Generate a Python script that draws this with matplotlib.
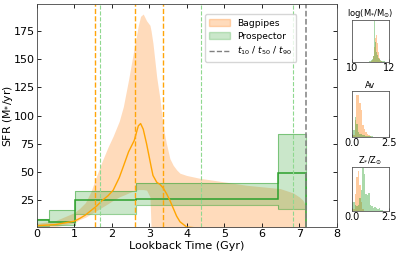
import numpy as np
import matplotlib
matplotlib.use("Agg")
import matplotlib.pyplot as plt
from matplotlib.patches import Patch
from matplotlib.lines import Line2D

# Bagpipes SFH (lookback time in Gyr, SFR in Msun/yr)
bp_t = [0.0, 0.5, 1.0, 1.15, 1.3, 1.45, 1.6, 1.75, 1.9, 2.04, 2.2, 2.31, 2.45,
        2.6, 2.71, 2.77, 2.84, 2.93, 3.02, 3.05, 3.1, 3.2, 3.29, 3.37, 3.46,
        3.55, 3.64, 3.73, 3.82, 4.0, 4.35, 4.7, 5.6, 6.49, 6.84, 7.0, 7.1, 7.18]
bp_med = [2.5, 3.5, 6.5, 9, 12, 16, 20, 25, 29, 34, 45, 55, 68, 78, 91, 93, 88, 75,
          60, 55, 47, 41, 39, 36, 31, 25, 18, 11, 6, 1.3, 0.3, 0.1, 0, 0, 0, 0, 0, 0]
bp_lo = [0.5, 1.5, 5, 8, 10, 13, 16, 19, 22, 25, 28, 29.5, 31.5, 33.5, 34.5, 34.5,
         34.5, 34, 28, 0, 0, 0, 0, 0, 0, 0, 0, 0, 0, 0, 0, 0, 0, 0, 0, 0, 0, 0]
bp_hi = [4.5, 7, 14, 18, 23, 33, 47, 60, 72, 82, 95, 108, 132, 160, 180, 188,
         190, 184, 180, 175, 164, 134, 114, 90, 75, 62, 56, 52, 49, 47, 44.5, 42.8,
         38.3, 35.4, 31.5, 28, 25, 19]

# Prospector non-parametric SFH bins
pr_edges = [0.0, 0.33, 1.02, 2.65, 6.44, 7.18]
pr_med = [7.5, 6, 25.6, 26.3, 49]
pr_lo = [2.5, 3.5, 12.5, 20.5, 17.6]
pr_hi = [8.8, 16, 33.5, 40, 83.6]

# percentile times
bp_tq = [1.55, 2.62, 3.37]
pr_tq = [1.69, 4.37, 6.84]
t_univ = 7.18

# posterior histograms (counts)
m_edges = np.arange(10.9, 11.81, 0.05)
m_pr = [1, 1, 2, 3, 4, 8, 60, 30, 14, 10, 6, 4, 3, 2, 2, 1, 1, 1]
m_bp = [0, 0, 0, 1, 3, 8, 22, 36, 40, 28, 14, 6, 2, 1, 0, 0, 0, 0]

av_edges = np.arange(0.0, 2.01, 0.1)
av_pr = [2, 8, 24, 16, 6, 4, 3, 2, 2, 1, 1, 1, 1, 1, 0.5, 0, 0, 0, 0, 0]
av_bp = [0, 2, 20, 50, 50, 40, 32, 14, 10, 6, 3, 2, 1, 0, 0, 0, 0, 0, 0, 0]

z_edges = np.arange(0.0, 2.11, 0.1)
z_pr = [20, 22, 15, 12, 14, 30, 50, 100, 85, 40, 38, 42, 15, 12, 8, 10, 6, 4, 8, 3, 2]
z_bp = [0, 5, 40, 80, 93, 60, 20, 5, 0, 0, 0, 0, 0, 0, 0, 0, 0, 0, 0, 0, 0]

c_bp = 'tab:orange'
c_line = 'orange'
c_pr = 'tab:green'

fig = plt.figure(figsize=(3.99, 2.59), dpi=100)
ax = fig.add_axes([0.092, 0.122, 0.752, 0.863])

ax.fill_between(bp_t, bp_lo, bp_hi, color=c_bp, alpha=0.28, lw=0)
ax.plot(bp_t, bp_med, color=c_line, lw=1)

ax.stairs(pr_hi, pr_edges, baseline=pr_lo, fill=True, color=c_pr, alpha=0.25)
ax.stairs(pr_hi, pr_edges, baseline=pr_lo, color=c_pr, alpha=0.5, lw=0.8)
ax.stairs(pr_med, pr_edges, color=c_pr, lw=1.1)

for t in bp_tq:
    ax.axvline(t, color='#ffa50a', ls='--', lw=1.0)
for t in pr_tq:
    ax.axvline(t, color='#8fd88f', ls='--', lw=0.8)
ax.axvline(t_univ, color='gray', ls='--', lw=1.1)

ax.set_xlim(0, 8)
ax.set_ylim(1, 199)
ax.set_yticks([25, 50, 75, 100, 125, 150, 175])
ax.set_xticks(range(9))
ax.tick_params(direction='in', top=True, right=True, labelsize=8, length=3,
               width=0.6, pad=1.5)
for s in ax.spines.values():
    s.set_linewidth(0.6)
    s.set_color('#444444')
ax.set_xlabel('Lookback Time (Gyr)', fontsize=8, labelpad=1)
ax.set_ylabel(r'SFR (M$_{*}$/yr)', fontsize=7.8)
ax.yaxis.set_label_coords(-0.072, 0.5)

handles = [Patch(color=c_bp, alpha=0.28, label='Bagpipes'),
           Patch(color=c_pr, alpha=0.25, label='Prospector'),
           Line2D([], [], color='gray', ls='--', lw=1, label=r'$t_{10}$ / $t_{50}$ / $t_{90}$')]
ax.legend(handles=handles, loc='upper left', bbox_to_anchor=(0.545, 0.975),
          fontsize=6.6, handlelength=2.2, borderpad=0.5, labelspacing=0.45,
          handletextpad=0.8)

# side histograms
panels = [
    ([0.882, 0.761, 0.093, 0.162], m_edges, m_pr, m_bp, (10, 12), [10, 12], ['10', '12'], 62,
     r'log(M$_{*}$/M$_{\odot}$)'),
    ([0.882, 0.471, 0.093, 0.178], av_edges, av_pr, av_bp, (0, 2.5), [0, 2.5], ['0.0', '2.5'], 55,
     'Av'),
    ([0.882, 0.185, 0.093, 0.170], z_edges, z_pr, z_bp, (0, 2.5), [0, 2.5], ['0.0', '2.5'], 102,
     r'Z$_{*}$/Z$_{\odot}$'),
]
for rect, edges, pr, bp, xl, xt, xtl, ytop, title in panels:
    hx = fig.add_axes(rect)
    hx.stairs(bp, edges, fill=True, color=c_bp, alpha=0.4)
    hx.stairs(pr, edges, fill=True, color=c_pr, alpha=0.4)
    hx.set_xlim(*xl)
    hx.set_ylim(0, ytop)
    hx.set_xticks(xt)
    hx.set_xticklabels(xtl)
    hx.set_yticks([])
    hx.tick_params(direction='in', labelsize=7, length=2, width=0.5, pad=1)
    for s in hx.spines.values():
        s.set_linewidth(0.6)
        s.set_color('#555555')
    hx.set_title(title, fontsize=6, pad=2)

fig.savefig('out.png', dpi=100)
